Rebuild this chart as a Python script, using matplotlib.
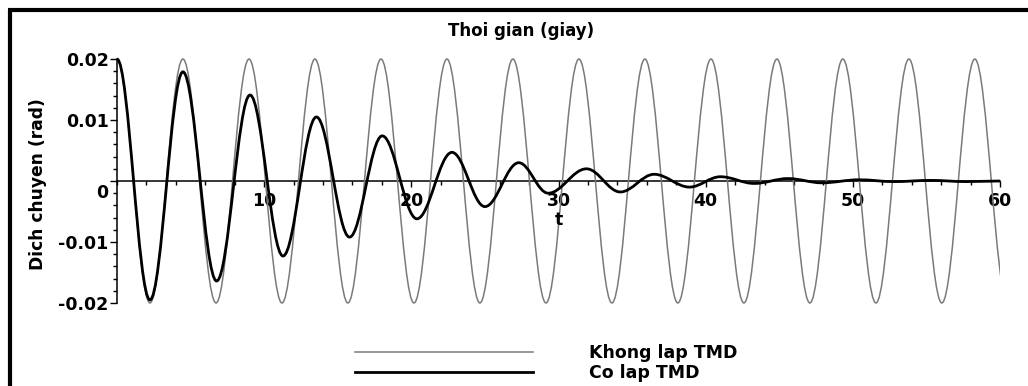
import matplotlib
matplotlib.use("Agg")
import matplotlib.pyplot as plt
import matplotlib.transforms as mtransforms
from matplotlib.path import Path
from matplotlib.patches import PathPatch
from matplotlib.lines import Line2D
from matplotlib.ticker import FixedLocator, MultipleLocator

# peaks / troughs: time (s), displacement (rad)
t_free = [0.0, 2.24, 4.48, 6.73, 8.97, 11.21, 13.45, 15.69, 17.94, 20.18,
          22.42, 24.66, 26.90, 29.15, 31.39, 33.63, 35.87, 38.11, 40.36,
          42.60, 44.84, 47.08, 49.32, 51.57, 53.81, 56.05, 58.29, 60.53]
y_free = [0.02, -0.02, 0.02, -0.02, 0.02, -0.02, 0.02, -0.02, 0.02, -0.02,
          0.02, -0.02, 0.02, -0.02, 0.02, -0.02, 0.02, -0.02, 0.02,
          -0.02, 0.02, -0.02, 0.02, -0.02, 0.02, -0.02, 0.02, -0.02]

t_tmd = [0.0, 2.24, 4.48, 6.77, 9.04, 11.28, 13.55, 15.80, 18.02, 20.38,
         22.76, 25.0, 27.3, 29.3, 31.9, 34.2, 36.5, 38.9, 41.0, 43.3,
         45.6, 47.9, 50.4, 52.8, 55.3, 57.7, 60.0]
y_tmd = [0.02, -0.0195, 0.0179, -0.0164, 0.0141, -0.0123, 0.0105, -0.0092,
         0.0074, -0.0062, 0.0047, -0.0042, 0.0030, -0.0020, 0.0020, -0.0018,
         0.0011, -0.0010, 0.0007, -0.0004, 0.0004, -0.0003, 0.0002, -0.0001,
         0.0001, -0.0001, 0.0]

x_ticks = [10, 20, 30, 40, 50, 60]
x_tick_labels = ["10", "20", "30", "40", "50", "60"]
y_ticks = [-0.02, -0.01, 0, 0.01, 0.02]
y_tick_labels = ["-0.02", "-0.01", "0", "0.01", "0.02"]
labels = ["Khong lap TMD", "Co lap TMD"]


def wave_path(ts, ys):
    # half-cosine between successive extrema, as cubic bezier pieces
    verts = [(ts[0], ys[0])]
    codes = [Path.MOVETO]
    for i in range(1, len(ts)):
        dt = ts[i] - ts[i - 1]
        verts += [(ts[i - 1] + 0.363 * dt, ys[i - 1]),
                  (ts[i] - 0.363 * dt, ys[i]),
                  (ts[i], ys[i])]
        codes += [Path.CURVE4] * 3
    return Path(verts, codes)


fig = plt.figure(figsize=(10.28, 3.86), dpi=100)
ax = fig.add_axes([117 / 1028, 80 / 386, 883 / 1028, 250 / 386])
ax.set_xlim(0, 60)
ax.set_ylim(-0.0205, 0.0205)

gray = "#7a7a7a"
ax.add_patch(PathPatch(wave_path(t_free, y_free), fill=False,
                       edgecolor=gray, lw=1.1, zorder=2))
ax.add_patch(PathPatch(wave_path(t_tmd, y_tmd), fill=False,
                       edgecolor="black", lw=2.0, zorder=3))

for side in ["top", "right"]:
    ax.spines[side].set_visible(False)
ax.spines["left"].set_position(("data", 0))
ax.spines["bottom"].set_position(("data", 0))
ax.spines["left"].set_bounds(-0.02, 0.02)
ax.spines["bottom"].set_bounds(0, 60)
for side in ["left", "bottom"]:
    ax.spines[side].set_linewidth(1.1)
    ax.spines[side].set_zorder(1)

ax.xaxis.set_major_locator(FixedLocator(x_ticks))
ax.xaxis.set_minor_locator(MultipleLocator(2))
ax.set_xticklabels(x_tick_labels)
ax.yaxis.set_major_locator(FixedLocator(y_ticks))
ax.yaxis.set_minor_locator(MultipleLocator(0.002))
ax.set_yticklabels(y_tick_labels)

ax.tick_params(axis="x", which="major", direction="out", length=4, width=1, pad=4, labelsize=12.5)
ax.tick_params(axis="x", which="minor", direction="out", length=3, width=1)
ax.tick_params(axis="y", which="major", direction="out", length=5, width=1, pad=1, labelsize=12.5)
ax.tick_params(axis="y", which="minor", direction="out", length=3, width=1)
for lab in ax.get_xticklabels() + ax.get_yticklabels():
    lab.set_fontweight("bold")
    lab.set_zorder(5)

# the "0" on the y axis sits a bit below the x axis line
zero_lab = ax.get_yticklabels()[2]
zero_lab.set_transform(zero_lab.get_transform() +
                       mtransforms.ScaledTranslation(0, -0.1, fig.dpi_scale_trans))

ax.text(30, -0.0064, "t", ha="center", va="center", fontsize=12.5, fontweight="bold")

fig.text(521 / 1028, 1 - 31 / 386, "Thoi gian (giay)", ha="center", va="center",
         fontsize=12, fontweight="bold")
fig.text(38 / 1028, 1 - 184 / 386, "Dich chuyen (rad)", ha="center", va="center",
         rotation=90, fontsize=12.3, fontweight="bold")

handles = [Line2D([], [], color=gray, lw=1.1), Line2D([], [], color="black", lw=2.0)]
fig.legend(handles, labels, loc="center", bbox_to_anchor=(546 / 1028, 1 - 363 / 386),
           frameon=False, handlelength=10.3, handletextpad=3.2, labelspacing=0.1,
           borderpad=0, prop={"size": 12.5, "weight": "bold"})

# outer frame (only top and left edges are visible)
fig.add_artist(Line2D([8 / 1028, 1], [1 - 9.5 / 386, 1 - 9.5 / 386],
                      transform=fig.transFigure, color="black", lw=3,
                      solid_capstyle="butt"))
fig.add_artist(Line2D([9.5 / 1028, 9.5 / 1028], [0, 1 - 9.5 / 386],
                      transform=fig.transFigure, color="black", lw=3,
                      solid_capstyle="butt"))

fig.savefig("out.png", dpi=100)
